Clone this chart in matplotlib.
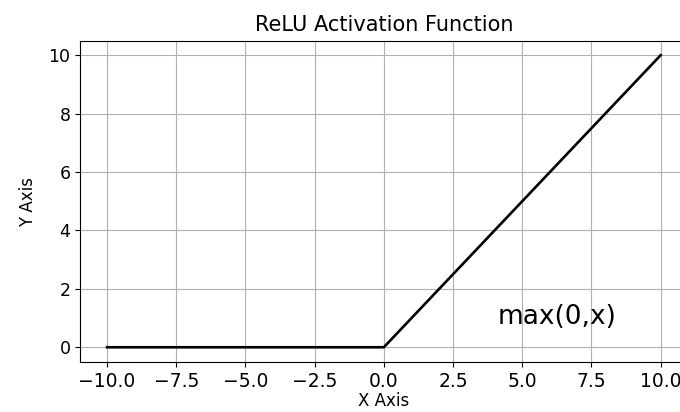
import matplotlib
matplotlib.use("Agg")
import matplotlib.pyplot as plt

x_vals = [-10.0, 0.0, 10.0]
y_vals = [0.0, 0.0, 10.0]
title = "ReLU Activation Function"
xlabel = "X Axis"
ylabel = "Y Axis"
annotation = "max(0,x)"

fig = plt.figure(figsize=(6.8, 4.12), dpi=100)
ax = fig.add_axes([0.118, 0.121, 0.893, 0.779])
ax.plot(x_vals, y_vals, color="black", linewidth=1.9)
ax.grid(True, color="#b0b0b0", linewidth=0.8)
ax.set_xlim(-10.97, 10.97)
ax.set_ylim(-0.51, 10.48)
ax.set_xticks([-10, -7.5, -5, -2.5, 0, 2.5, 5, 7.5, 10])
ax.set_yticks([0, 2, 4, 6, 8, 10])
ax.tick_params(axis="x", labelsize=13.5)
ax.tick_params(axis="y", labelsize=12.5)
ax.set_title(title, fontsize=15, pad=7)
ax.set_xlabel(xlabel, fontsize=12, labelpad=1)
ax.set_ylabel(ylabel, fontsize=12, labelpad=8)
ax.text(4.1, 0.8, annotation, fontsize=19)
fig.savefig("out.png", dpi=100)
